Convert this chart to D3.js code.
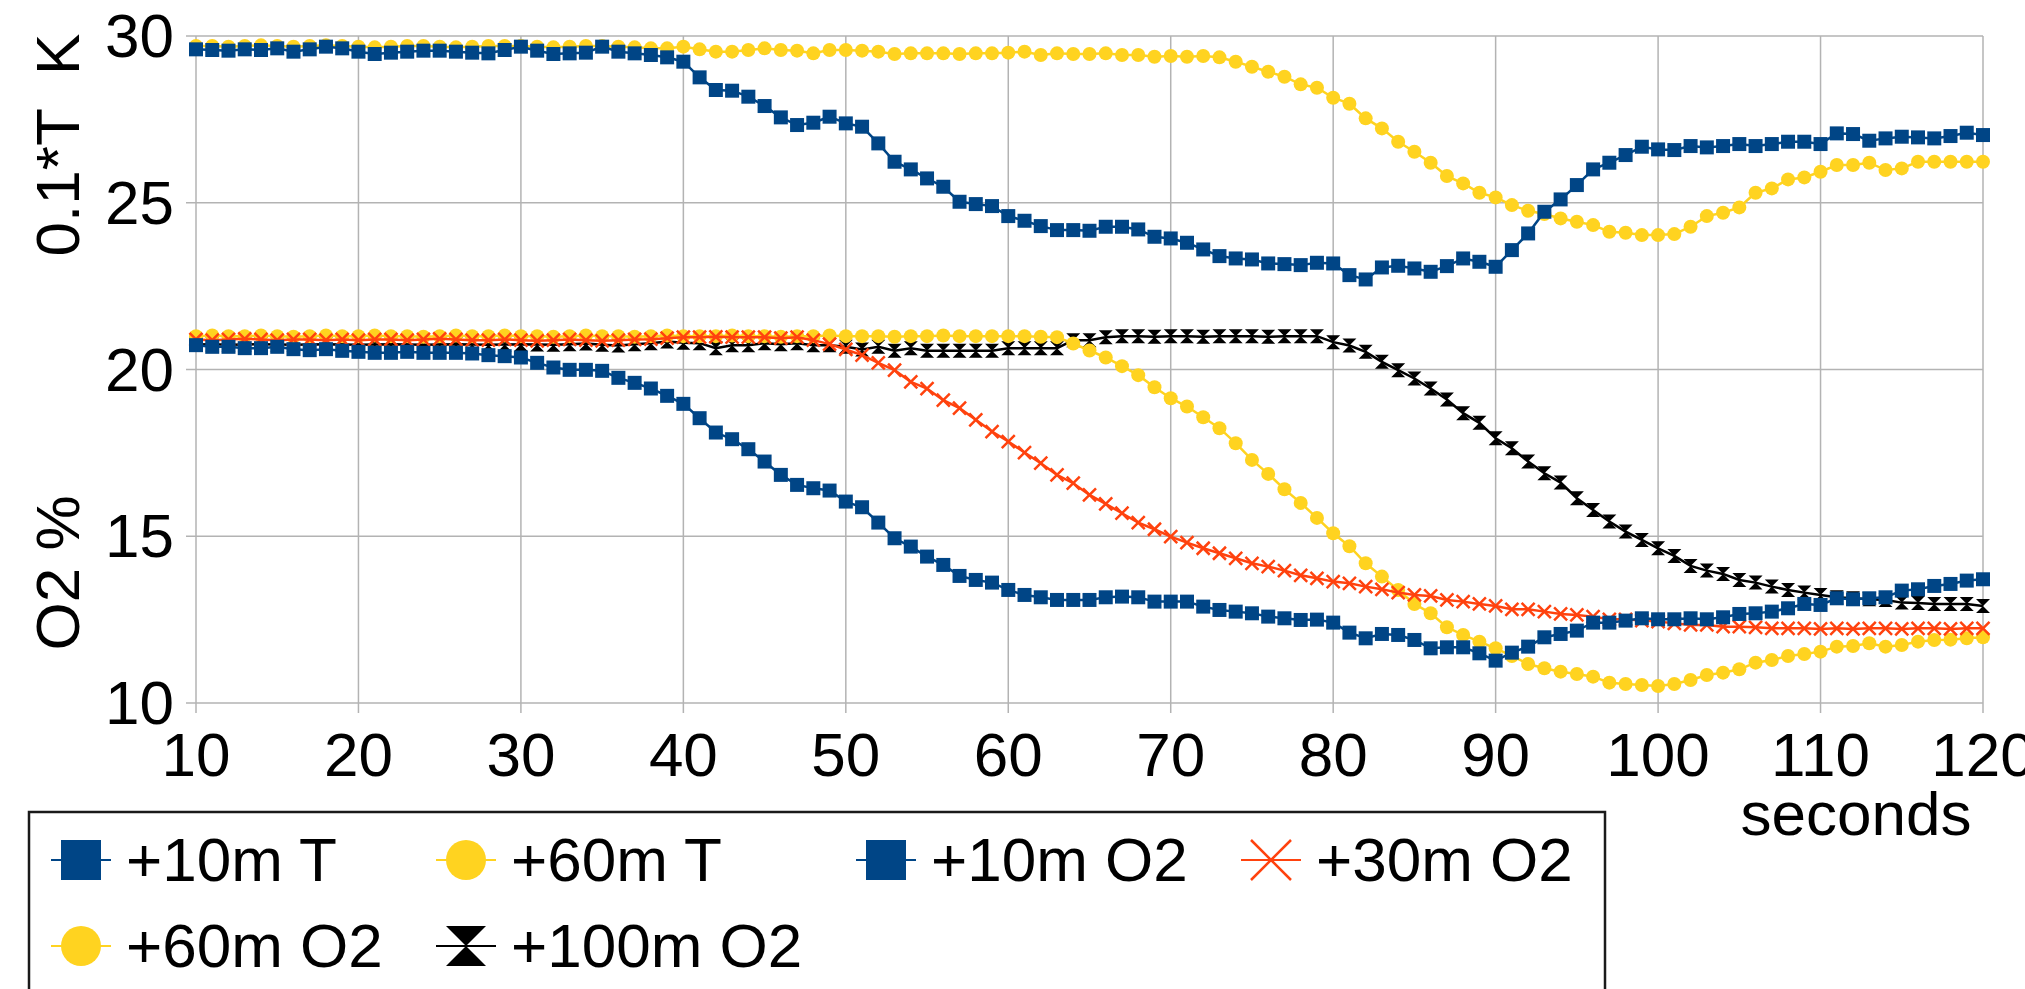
<!DOCTYPE html>
<html lang="en">
  <head>
    <meta charset="UTF-8" />
    <title>Temperature and O2 over time</title>
    <script src="https://d3js.org/d3.v7.min.js"></script>
    <style>
      body {
        margin: 0;
        background: #fff;
      }
      text {
        font-family: 'Liberation Sans', Arial, sans-serif;
        fill: #000;
      }
    </style>
  </head>
  <body>
    <div id="chart"></div>
    <script>
      // x values: one sample per second
      const seconds = d3.range(10, 121);

      const t10m = [
        29.6, 29.58, 29.56, 29.6, 29.58, 29.63, 29.53, 29.6, 29.68, 29.63,
        29.53, 29.46, 29.5, 29.53, 29.56, 29.56, 29.53, 29.5, 29.48, 29.58,
        29.68, 29.56, 29.46, 29.48, 29.5, 29.68, 29.53, 29.48, 29.43, 29.36,
        29.23, 28.76, 28.38, 28.36, 28.18, 27.9, 27.56, 27.33, 27.4, 27.58,
        27.38, 27.28, 26.78, 26.23, 26.0, 25.73, 25.48, 25.03, 24.96, 24.9,
        24.6, 24.46, 24.3, 24.18, 24.18, 24.16, 24.28, 24.28, 24.2, 23.98,
        23.93, 23.8, 23.6, 23.4, 23.33, 23.3, 23.18, 23.16, 23.13, 23.2,
        23.18, 22.83, 22.7, 23.06, 23.11, 23.03, 22.93, 23.1, 23.33, 23.23,
        23.08, 23.58, 24.08, 24.73, 25.1, 25.53, 26.0, 26.2, 26.43, 26.68,
        26.6, 26.58, 26.7, 26.66, 26.7, 26.76, 26.7, 26.76, 26.83, 26.83,
        26.76, 27.08, 27.06, 26.86, 26.93, 26.98, 26.96, 26.93, 27.0, 27.1,
        27.03
      ];
      const t60m = [
        29.7, 29.7, 29.68, 29.7, 29.72, 29.7, 29.68, 29.7, 29.72, 29.7,
        29.68, 29.66, 29.68, 29.7, 29.7, 29.68, 29.66, 29.68, 29.7, 29.7,
        29.7, 29.68, 29.66, 29.68, 29.7, 29.7, 29.68, 29.66, 29.63, 29.63,
        29.68, 29.6, 29.53, 29.53, 29.58, 29.63, 29.58, 29.56, 29.48, 29.58,
        29.58, 29.56, 29.53, 29.46, 29.48, 29.48, 29.48, 29.46, 29.48, 29.48,
        29.5, 29.53, 29.43, 29.48, 29.46, 29.46, 29.48, 29.43, 29.43, 29.38,
        29.4, 29.38, 29.4, 29.36, 29.23, 29.08, 28.93, 28.78, 28.55, 28.45,
        28.15, 27.97, 27.53, 27.23, 26.83, 26.53, 26.2, 25.8, 25.58, 25.3,
        25.16, 24.93, 24.76, 24.66, 24.53, 24.43, 24.33, 24.13, 24.1, 24.03,
        24.03, 24.06, 24.28, 24.6, 24.7, 24.86, 25.3, 25.43, 25.7, 25.76,
        25.93, 26.13, 26.13, 26.2, 25.98, 26.03, 26.23, 26.23, 26.23, 26.23,
        26.23
      ];
      const o2at10m = [
        20.73, 20.68, 20.68, 20.64, 20.64, 20.68, 20.61, 20.58, 20.61, 20.56,
        20.53, 20.5, 20.5, 20.53, 20.5, 20.5, 20.5, 20.48, 20.43, 20.4,
        20.36, 20.2, 20.06, 19.99, 19.99, 19.96, 19.75, 19.6, 19.43, 19.21,
        18.97, 18.54, 18.11, 17.91, 17.61, 17.24, 16.84, 16.54, 16.44, 16.37,
        16.04, 15.87, 15.41, 14.94, 14.69, 14.39, 14.14, 13.81, 13.69, 13.61,
        13.39, 13.24, 13.17, 13.09, 13.09, 13.09, 13.17, 13.19, 13.17, 13.04,
        13.04, 13.04, 12.89, 12.79, 12.74, 12.69, 12.59, 12.54, 12.49, 12.5,
        12.41, 12.11, 11.94, 12.07, 12.04, 11.89, 11.64, 11.67, 11.67, 11.49,
        11.27, 11.51, 11.69, 11.97, 12.07, 12.17, 12.41, 12.41, 12.47, 12.54,
        12.51, 12.51, 12.54, 12.51, 12.57, 12.67, 12.69, 12.74, 12.84, 12.97,
        12.94, 13.14, 13.11, 13.14, 13.17, 13.37, 13.41, 13.51, 13.57, 13.67,
        13.71
      ];
      const o2at30m = [
        20.9, 20.88, 20.9, 20.92, 20.9, 20.88, 20.9, 20.9, 20.88, 20.9,
        20.88, 20.9, 20.9, 20.88, 20.9, 20.92, 20.9, 20.88, 20.88, 20.9,
        20.88, 20.86, 20.88, 20.9, 20.88, 20.86, 20.88, 20.9, 20.91, 20.94,
        20.97, 20.97, 20.98, 20.97, 20.97, 20.97, 20.94, 20.97, 20.88, 20.76,
        20.6, 20.43, 20.2, 19.98, 19.63, 19.43, 19.08, 18.84, 18.49, 18.14,
        17.84, 17.51, 17.19, 16.84, 16.59, 16.24, 15.97, 15.69, 15.41, 15.21,
        14.99, 14.81, 14.64, 14.49, 14.34, 14.19, 14.09, 13.97, 13.83, 13.74,
        13.64, 13.59, 13.49, 13.41, 13.31, 13.24, 13.21, 13.09, 13.04, 12.97,
        12.91, 12.81, 12.81, 12.74, 12.67, 12.64, 12.59, 12.51, 12.51, 12.47,
        12.44, 12.39, 12.34, 12.34, 12.29, 12.29, 12.27, 12.24, 12.24, 12.24,
        12.22, 12.24, 12.22, 12.24, 12.24, 12.22, 12.24, 12.24, 12.22, 12.24,
        12.24
      ];
      const o2at60m = [
        21.0, 21.02, 21.0, 21.0, 21.02, 21.0, 20.98, 21.0, 21.02, 21.0,
        21.0, 21.02, 21.0, 21.0, 20.98, 21.0, 21.02, 21.0, 21.0, 21.02,
        21.0, 21.0, 20.98, 21.0, 21.02, 21.0, 21.0, 20.98, 21.0, 21.02,
        21.0, 21.0, 21.0, 21.02, 21.0, 21.0, 20.98, 21.0, 21.0, 21.02,
        21.0, 21.0, 21.0, 20.98, 21.0, 21.0, 21.02, 21.0, 21.0, 21.0,
        21.0, 21.0, 20.98, 20.97, 20.78, 20.57, 20.36, 20.1, 19.83, 19.47,
        19.14, 18.89, 18.57, 18.24, 17.79, 17.29, 16.87, 16.41, 16.0, 15.55,
        15.09, 14.7, 14.19, 13.79, 13.39, 12.97, 12.69, 12.27, 12.04, 11.84,
        11.64, 11.41, 11.17, 11.04, 10.94, 10.87, 10.79, 10.61, 10.57, 10.54,
        10.51, 10.57, 10.69, 10.84, 10.91, 11.01, 11.21, 11.29, 11.41, 11.47,
        11.54, 11.69, 11.71, 11.79, 11.69, 11.74, 11.84, 11.89, 11.9, 11.94,
        11.97
      ];
      const o2at100m = [
        20.75, 20.76, 20.74, 20.75, 20.76, 20.75, 20.74, 20.75, 20.76, 20.75,
        20.74, 20.75, 20.76, 20.75, 20.74, 20.75, 20.76, 20.75, 20.74, 20.75,
        20.76, 20.75, 20.74, 20.76, 20.78, 20.74, 20.72, 20.76, 20.79, 20.84,
        20.8, 20.79, 20.64, 20.73, 20.73, 20.79, 20.76, 20.79, 20.73, 20.73,
        20.68, 20.6, 20.68, 20.56, 20.64, 20.56, 20.56, 20.56, 20.56, 20.56,
        20.64, 20.64, 20.64, 20.64, 20.88, 20.88, 20.97, 21.0, 21.0, 20.98,
        21.0, 21.0, 20.98, 21.0, 21.0, 21.0, 20.98, 21.0, 21.0, 21.0,
        20.82, 20.72, 20.53, 20.23, 19.98, 19.73, 19.43, 19.1, 18.69, 18.4,
        17.94, 17.64, 17.24, 16.89, 16.61, 16.14, 15.79, 15.44, 15.14, 14.89,
        14.64, 14.41, 14.11, 13.97, 13.87, 13.69, 13.61, 13.49, 13.39, 13.31,
        13.24, 13.17, 13.14, 13.11, 13.09, 13.01, 13.0, 12.97, 12.97, 12.97,
        12.91
      ];

      const seriesNames = ['+10m T', '+60m T', '+10m O2', '+30m O2', '+60m O2', '+100m O2'];
      const seriesValues = [t10m, t60m, o2at10m, o2at30m, o2at60m, o2at100m];
      const seriesColors = ['#004586', '#ffd320', '#004586', '#ff420e', '#ffd320', '#000000'];
      const seriesShapes = ['square', 'circle', 'square', 'x', 'circle', 'hourglass'];

      const xTicks = [10, 20, 30, 40, 50, 60, 70, 80, 90, 100, 110, 120];
      const yTicks = [10, 15, 20, 25, 30];

      const width = 2025;
      const height = 989;
      const fontSize = 62;

      const svg = d3
        .select('#chart')
        .append('svg')
        .attr('width', width)
        .attr('height', height);

      const x = d3.scaleLinear().domain([10, 120]).range([196, 1983]);
      const y = d3.scaleLinear().domain([10, 30]).range([703, 36]);

      // path for one marker, s = half size
      function markerPath(shape, s) {
        switch (shape) {
          case 'square':
            return `M${-s},${-s}H${s}V${s}H${-s}Z`;
          case 'circle':
            return `M${-s},0A${s},${s} 0 1,0 ${s},0A${s},${s} 0 1,0 ${-s},0Z`;
          case 'x':
            return `M${-s},${-s}L${s},${s}M${s},${-s}L${-s},${s}`;
          case 'hourglass':
            return `M${-s},${-s}L${s},${-s}L${-s},${s}L${s},${s}Z`;
        }
      }

      function drawMarker(g, shape, color, s) {
        const p = g.append('path').attr('d', markerPath(shape, s));
        if (shape === 'x') {
          p.attr('fill', 'none').attr('stroke', color).attr('stroke-width', 2.5);
        } else {
          p.attr('fill', color);
        }
      }

      // grid + ticks
      const grid = svg.append('g').attr('stroke', '#b3b3b3').attr('stroke-width', 1.5);
      xTicks.forEach((t) => {
        grid
          .append('line')
          .attr('x1', x(t))
          .attr('x2', x(t))
          .attr('y1', y(30))
          .attr('y2', y(10) + 10);
      });
      yTicks.forEach((t) => {
        grid
          .append('line')
          .attr('x1', x(10) - 10)
          .attr('x2', x(120))
          .attr('y1', y(t))
          .attr('y2', y(t));
      });

      svg
        .append('g')
        .selectAll('text')
        .data(xTicks)
        .enter()
        .append('text')
        .attr('x', (d) => x(d))
        .attr('y', 776)
        .attr('text-anchor', 'middle')
        .style('font-size', fontSize + 'px')
        .text((d) => d);

      svg
        .append('g')
        .selectAll('text')
        .data(yTicks)
        .enter()
        .append('text')
        .attr('x', 174)
        .attr('y', (d) => y(d) + 21)
        .attr('text-anchor', 'end')
        .style('font-size', fontSize + 'px')
        .text((d) => d);

      // axis titles
      svg
        .append('text')
        .attr('transform', 'translate(79,145) rotate(-90)')
        .attr('text-anchor', 'middle')
        .style('font-size', fontSize + 'px')
        .style('white-space', 'pre')
        .text('0.1*T  K');

      svg
        .append('text')
        .attr('transform', 'translate(79,573) rotate(-90)')
        .attr('text-anchor', 'middle')
        .style('font-size', fontSize + 'px')
        .text('O2 %');

      svg
        .append('text')
        .attr('x', 1856)
        .attr('y', 835)
        .attr('text-anchor', 'middle')
        .style('font-size', fontSize + 'px')
        .text('seconds');

      // series, last one drawn first
      const line = d3
        .line()
        .x((d, i) => x(seconds[i]))
        .y((d) => y(d));

      d3.range(seriesNames.length)
        .reverse()
        .forEach((k) => {
          const g = svg.append('g');
          g.append('path')
            .datum(seriesValues[k])
            .attr('d', line)
            .attr('fill', 'none')
            .attr('stroke', seriesColors[k])
            .attr('stroke-width', 2.5);

          seriesValues[k].forEach((v, i) => {
            const m = g
              .append('g')
              .attr('transform', `translate(${x(seconds[i])},${y(v)})`);
            drawMarker(m, seriesShapes[k], seriesColors[k], seriesShapes[k] === 'x' ? 6.5 : 7);
          });
        });

      // legend
      const legend = svg.append('g');
      legend
        .append('rect')
        .attr('x', 29)
        .attr('y', 812)
        .attr('width', 1576)
        .attr('height', 200)
        .attr('fill', '#fff')
        .attr('stroke', '#1a1a1a')
        .attr('stroke-width', 2.5);

      const legendPos = [
        [81, 860],
        [466, 860],
        [886, 860],
        [1271, 860],
        [81, 946],
        [466, 946]
      ];

      seriesNames.forEach((name, k) => {
        const [cx, cy] = legendPos[k];
        const item = legend.append('g').attr('transform', `translate(${cx},${cy})`);
        item
          .append('line')
          .attr('x1', -30)
          .attr('x2', 30)
          .attr('stroke', seriesColors[k])
          .attr('stroke-width', 2);
        drawMarker(item, seriesShapes[k], seriesColors[k], 20);
        item
          .append('text')
          .attr('x', 45)
          .attr('y', 21)
          .style('font-size', fontSize + 'px')
          .text(name);
      });
    </script>
  </body>
</html>
